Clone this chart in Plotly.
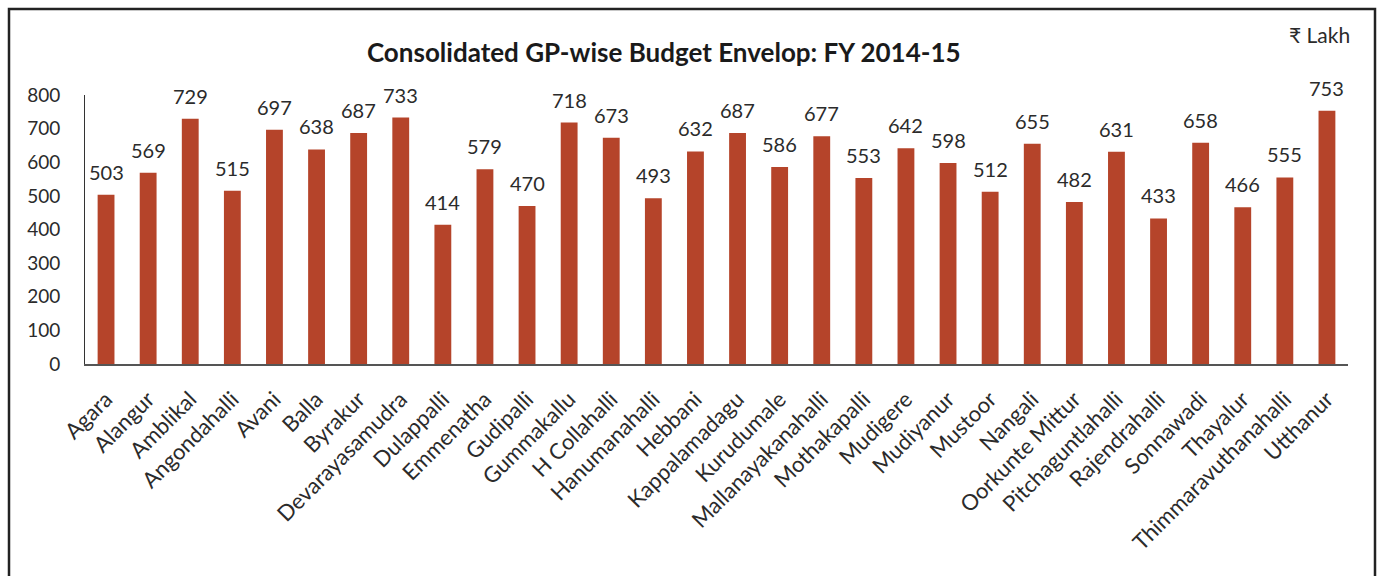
import plotly.graph_objects as go

panchayats = [
    "Agara", "Alangur", "Amblikal", "Angondahalli", "Avani", "Balla", "Byrakur",
    "Devarayasamudra", "Dulappalli", "Emmenatha", "Gudipalli", "Gummakallu",
    "H Collahalli", "Hanumanahalli", "Hebbani", "Kappalamadagu", "Kurudumale",
    "Mallanayakanahalli", "Mothakapalli", "Mudigere", "Mudiyanur", "Mustoor",
    "Nangali", "Oorkunte Mittur", "Pitchaguntlahalli", "Rajendrahalli",
    "Sonnawadi", "Thayalur", "Thimmaravuthanahalli", "Utthanur",
]
budget_lakh = [
    503, 569, 729, 515, 697, 638, 687, 733, 414, 579, 470, 718, 673, 493, 632,
    687, 586, 677, 553, 642, 598, 512, 655, 482, 631, 433, 658, 466, 555, 753,
]
y_ticks = [0, 100, 200, 300, 400, 500, 600, 700, 800]

FONT = "Lato"
TEXT = "#2b2b2b"
BAR = "#B5442A"

fig = go.Figure(
    go.Bar(
        x=panchayats,
        y=budget_lakh,
        marker=dict(color=BAR, line=dict(width=0)),
        cliponaxis=False,
    )
)

# value labels sitting a little above each bar
value_labels = [
    dict(
        x=name, y=val, xref="x", yref="y",
        text=str(val), showarrow=False,
        xanchor="center", yanchor="bottom", yshift=9,
        font=dict(family=FONT, size=20, color=TEXT),
    )
    for name, val in zip(panchayats, budget_lakh)
]

fig.update_layout(
    width=1380,
    height=576,
    margin=dict(l=85, r=32, t=95, b=212),
    paper_bgcolor="white",
    plot_bgcolor="white",
    bargap=0.6,
    showlegend=False,
    font=dict(family=FONT, color=TEXT),
    title=dict(
        text="<b>Consolidated GP-wise Budget Envelop: FY 2014-15</b>",
        x=0.481,
        xanchor="center",
        y=1 - 53 / 576,
        yanchor="middle",
        font=dict(family=FONT, size=26, color="#1a1a1a"),
    ),
    annotations=value_labels + [
        dict(
            text="₹ Lakh",
            xref="paper", yref="paper",
            x=1.003, y=1 + (95 - 34) / 269,
            xanchor="right", yanchor="middle",
            showarrow=False,
            font=dict(family=FONT, size=21, color=TEXT),
        )
    ],
    shapes=[
        dict(
            type="rect",
            xref="paper", yref="paper",
            x0=(9 - 85) / 1263, x1=(1375 - 85) / 1263,
            y0=(364 - 590) / 269, y1=(364 - 9) / 269,
            line=dict(color="#222222", width=2.5),
            fillcolor="rgba(0,0,0,0)",
            layer="below",
        )
    ],
)

fig.update_xaxes(
    showline=True,
    linecolor="#555555",
    linewidth=1.5,
    showgrid=False,
    ticks="",
    tickangle=-45,
    tickfont=dict(family=FONT, size=22, color=TEXT),
    ticklabelstandoff=12,
)
fig.update_yaxes(
    range=[0, 800],
    tickvals=y_ticks,
    showline=True,
    linecolor="#333333",
    linewidth=1,
    showgrid=False,
    zeroline=False,
    ticks="",
    tickfont=dict(family=FONT, size=19, color=TEXT),
    ticklabelstandoff=20,
)

fig.write_html("out.html")
